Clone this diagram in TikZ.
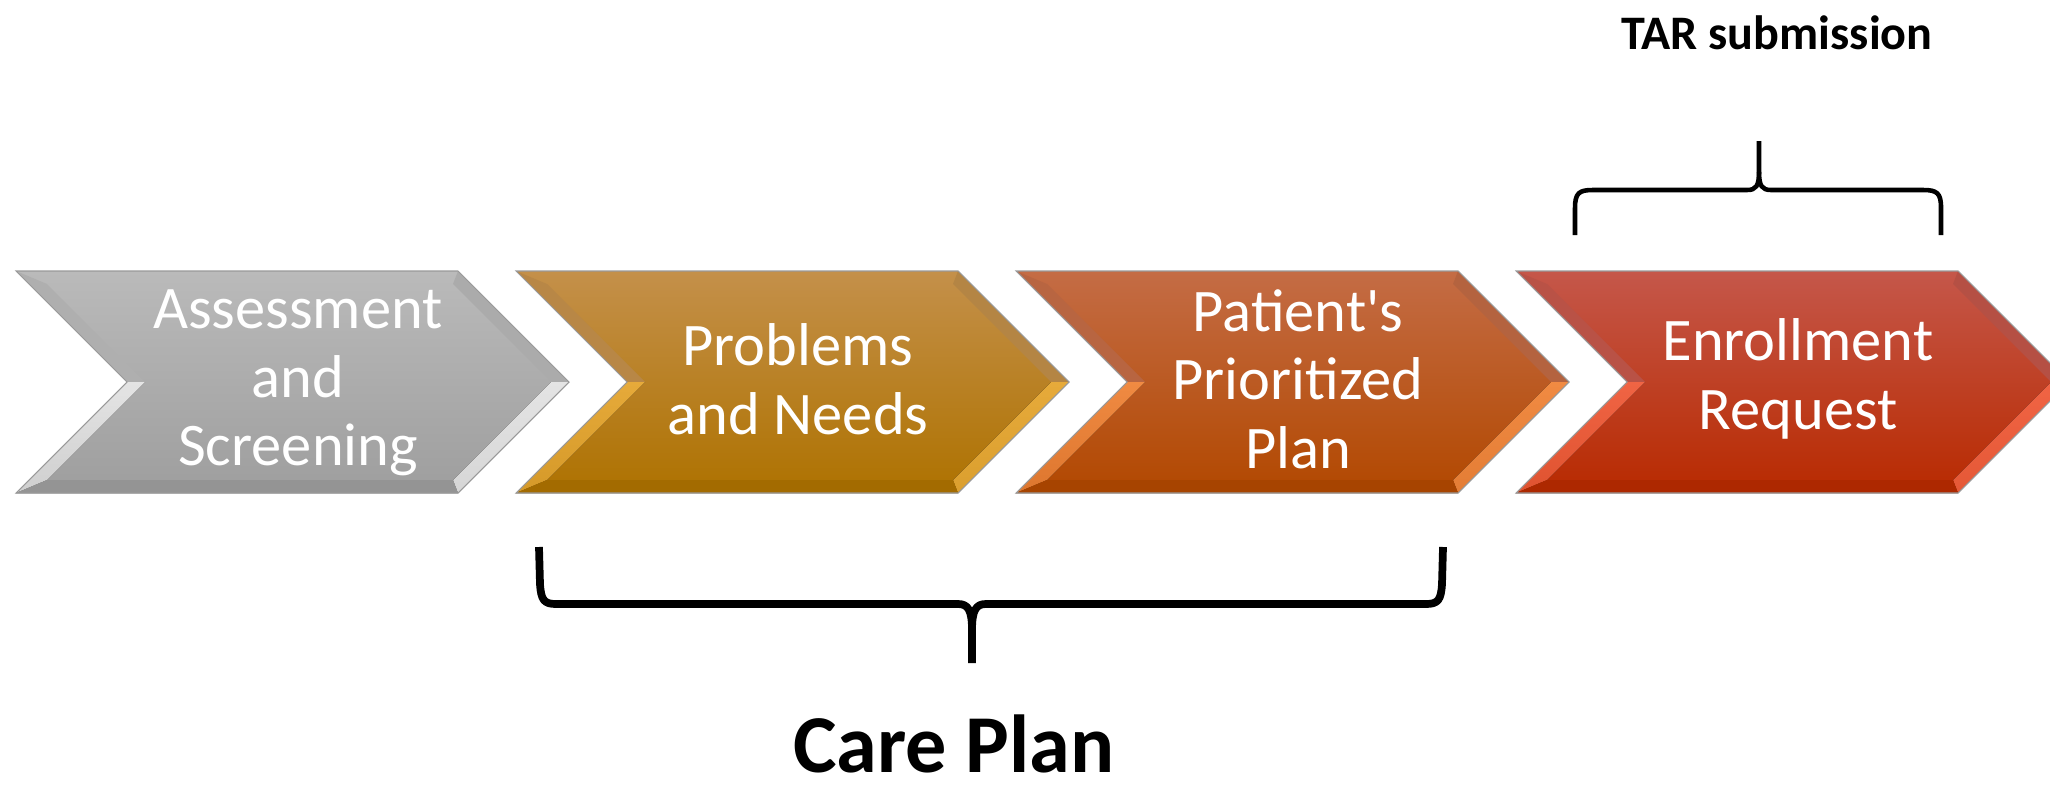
\documentclass[tikz,border=0pt]{standalone}
\usepackage{fontspec}
\setmainfont{Carlito}[Ligatures=TeXOff]
\usepackage{tikz}

\definecolor{gray-top}{HTML}{BABABA}
\definecolor{gray-bot}{HTML}{9E9E9E}
\definecolor{gray-hi}{HTML}{E4E4E4}
\definecolor{gold-top}{HTML}{C4904A}
\definecolor{gold-bot}{HTML}{AE7200}
\definecolor{gold-hi}{HTML}{E6AA3A}
\definecolor{orange-top}{HTML}{C46C45}
\definecolor{orange-bot}{HTML}{B24800}
\definecolor{orange-hi}{HTML}{F08A42}
\definecolor{red-top}{HTML}{C5574A}
\definecolor{red-bot}{HTML}{B82A00}
\definecolor{red-hi}{HTML}{F06444}

\begin{document}
\begin{tikzpicture}[
  steptext/.style={text=white,align=center,font=\fontsize{17.2}{19.5}\selectfont},
  bracebar/.style={line width=1.3pt,line join=round},
  bracelabel/.style={anchor=base,font=\bfseries\fontsize{13.7}{16}\selectfont}]
\useasboundingbox (0,0) rectangle (20.5,7.9);
\clip (0,0) rectangle (20.5,7.9);

% chevrons: face, then the bevel bands round it
\foreach \x/\c in {0.16/gray,5.16/gold,10.16/orange,15.16/red}{
  \fill[top color=\c-top,bottom color=\c-bot]
    (\x,5.19) -- ++(4.42,0) -- ++(1.11,-1.11) -- ++(-1.11,-1.11) -- ++(-4.42,0) -- ++(1.11,1.11) -- cycle;
  \fill[\c-top!94!black] (\x,5.19) -- (\x+1.11,4.08) -- (\x+1.29,4.08) -- (\x+0.31,5.06) -- cycle;
  \fill[top color=\c-hi,bottom color=\c-hi!70!\c-bot] (\x+1.11,4.08) -- (\x,2.97) -- (\x+0.31,3.10) -- (\x+1.29,4.08) -- cycle;
  \fill[\c-top!92!black] (\x+4.42,5.19) -- (\x+5.53,4.08) -- (\x+5.35,4.08) -- (\x+4.37,5.06) -- cycle;
  \fill[top color=\c-hi,bottom color=\c-hi!80!\c-bot] (\x+5.53,4.08) -- (\x+4.42,2.97) -- (\x+4.37,3.10) -- (\x+5.35,4.08) -- cycle;
  \fill[\c-bot!94!black] (\x,2.97) -- (\x+4.42,2.97) -- (\x+4.37,3.10) -- (\x+0.31,3.10) -- cycle;
  \draw[black!40,line width=0.3pt]
    (\x,5.19) -- ++(4.42,0) -- ++(1.11,-1.11) -- ++(-1.11,-1.11) -- ++(-4.42,0) -- ++(1.11,1.11) -- cycle;
}

\node[steptext] (as) at (2.98,4.07) {Assessment\\and\\Screening};
\node[steptext] (pn) at (7.98,4.11) {Problems\\and Needs};
\node[steptext] (pp) at (12.98,4.11) {Patient's\\Prioritized\\Plan};
\node[steptext] (er) at (17.98,4.11) {Enrollment\\Request};

% brace over the last step
\draw[bracebar] (15.75,5.55) -- (15.75,5.82) .. controls (15.75,5.97) and (15.79,6.00) .. (15.93,6.00)
  -- (17.47,6.00) .. controls (17.56,6.00) and (17.59,6.04) .. (17.59,6.18) -- (17.59,6.49);
\draw[bracebar] (19.41,5.55) -- (19.41,5.82) .. controls (19.41,5.97) and (19.37,6.00) .. (19.23,6.00)
  -- (17.71,6.00) .. controls (17.62,6.00) and (17.59,6.04) .. (17.59,6.18);
\node[bracelabel] (tar) at (17.77,7.41) {TAR submission};

% brace under steps 2 and 3
\draw[bracebar,line width=2.2pt] (5.39,2.43) -- (5.40,2.06) .. controls (5.41,1.90) and (5.44,1.86) .. (5.56,1.86)
  -- (9.58,1.86) .. controls (9.68,1.86) and (9.72,1.80) .. (9.72,1.60) -- (9.72,1.27);
\draw[bracebar,line width=2.2pt] (14.43,2.43) -- (14.42,2.06) .. controls (14.41,1.90) and (14.38,1.86) .. (14.26,1.86)
  -- (9.86,1.86) .. controls (9.76,1.86) and (9.72,1.80) .. (9.72,1.60);
\node[bracelabel,font=\bfseries\fontsize{23.4}{26}\selectfont] (cp) at (9.54,0.18) {Care Plan};

\end{tikzpicture}
\end{document}
